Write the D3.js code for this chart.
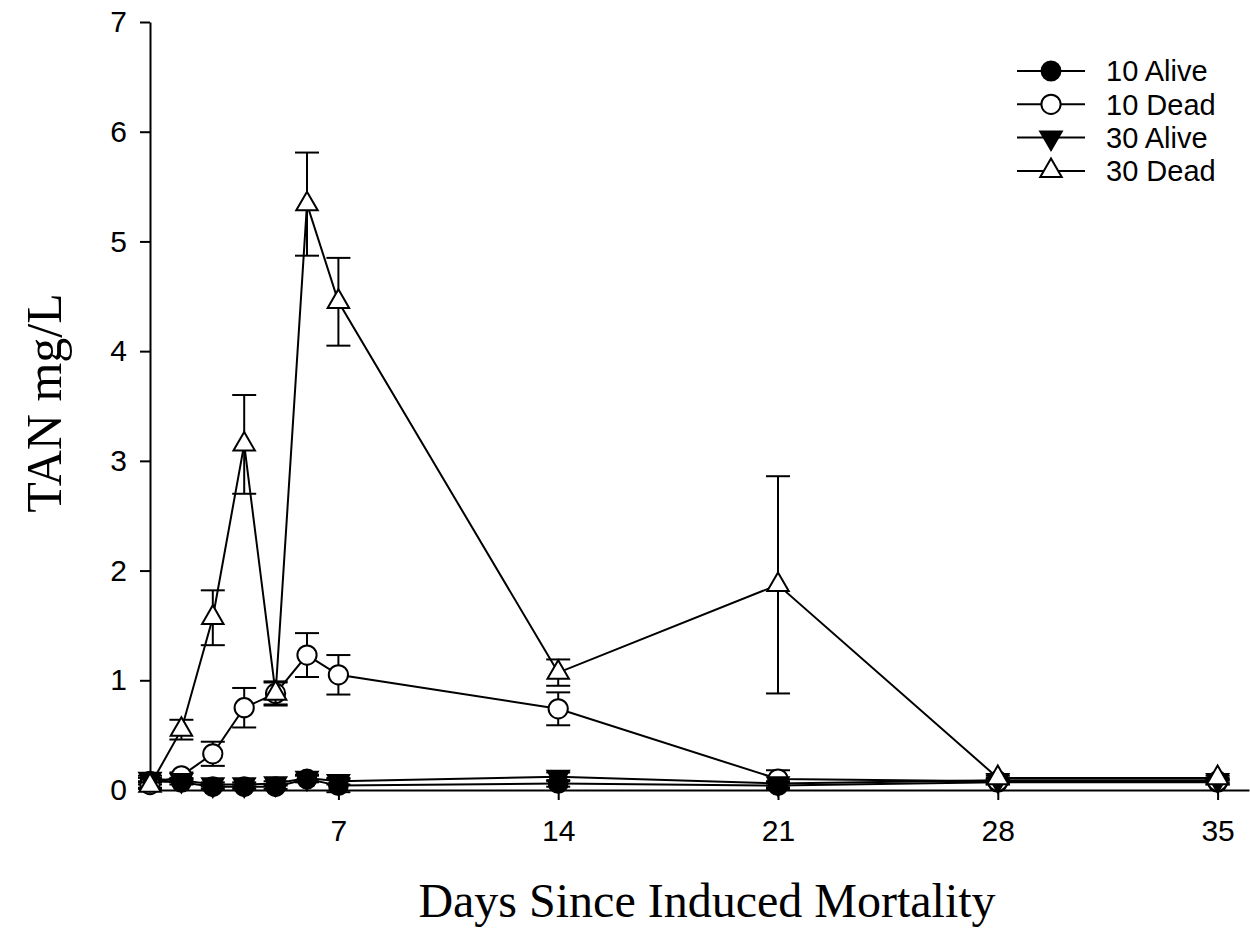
<!doctype html>
<html>
<head>
    <meta charset="UTF-8">
    <title>TAN mg/L</title>
    <script src="https://d3js.org/d3.v7.min.js"></script>
    <style>
        body { margin: 0; background: #fff; }
        text { fill: #000; }
    </style>
</head>
<body>
<svg width="1250" height="935" id="chart"></svg>
<script>
// days sampled
var days = [1, 2, 3, 4, 5, 6, 7, 14, 21, 28, 35];

// TAN mg/L means and error (SE)
var alive10 = [0.08, 0.07, 0.03, 0.03, 0.03, 0.10, 0.04, 0.06, 0.04, 0.07, 0.07];
var alive10Err = [0.03, 0.02, 0.02, 0.02, 0.02, 0.03, 0.06, 0.03, 0.03, 0.02, 0.02];
var dead10 = [0.05, 0.13, 0.33, 0.75, 0.88, 1.23, 1.05, 0.74, 0.10, 0.08, 0.08];
var dead10Err = [0.03, 0.03, 0.11, 0.18, 0.10, 0.20, 0.18, 0.15, 0.08, 0.02, 0.02];
var alive30 = [0.10, 0.09, 0.05, 0.05, 0.06, 0.11, 0.08, 0.12, 0.06, 0.09, 0.09];
var alive30Err = [0.03, 0.02, 0.02, 0.02, 0.02, 0.03, 0.03, 0.04, 0.02, 0.02, 0.02];
var dead30 = [0.04, 0.55, 1.57, 3.15, 0.88, 5.34, 4.45, 1.07, 1.87, 0.11, 0.11];
var dead30Err = [0.03, 0.09, 0.25, 0.45, 0.11, 0.47, 0.40, 0.12, 0.99, 0.02, 0.02];

var xTicks = [7, 14, 21, 28, 35];
var yTicks = [0, 1, 2, 3, 4, 5, 6, 7];

var seriesNames = ["10 Alive", "10 Dead", "30 Alive", "30 Dead"];

var series = [
    {name: seriesNames[0], vals: alive10, err: alive10Err, shape: d3.symbolCircle, size: 280, fill: "#000", rot: 0},
    {name: seriesNames[1], vals: dead10, err: dead10Err, shape: d3.symbolCircle, size: 290, fill: "#fff", rot: 0},
    {name: seriesNames[2], vals: alive30, err: alive30Err, shape: d3.symbolTriangle, size: 200, fill: "#000", rot: 180},
    {name: seriesNames[3], vals: dead30, err: dead30Err, shape: d3.symbolTriangle, size: 200, fill: "#fff", rot: 0}
];

var svg = d3.select("#chart");
var x = d3.scaleLinear().domain([1, 36]).range([150, 1249]);
var y = d3.scaleLinear().domain([0, 7]).range([790, 22]);
var tickFont = "Liberation Sans, Arial, sans-serif";

// axes
svg.append("g")
    .attr("transform", "translate(0,790)")
    .call(d3.axisBottom(x).tickValues(xTicks).tickFormat(d3.format("d")).tickSize(10).tickSizeOuter(0).tickPadding(20))
    .call(function(g){
        g.select(".domain").attr("stroke-width", 2);
        g.selectAll(".tick line").attr("stroke-width", 2);
        g.selectAll("text").attr("font-family", tickFont).attr("font-size", 30);
    });

svg.append("g")
    .attr("transform", "translate(150,0)")
    .call(d3.axisLeft(y).tickValues(yTicks).tickFormat(d3.format("d")).tickSize(10).tickSizeOuter(0).tickPadding(13))
    .call(function(g){
        g.select(".domain").attr("stroke-width", 2);
        g.selectAll(".tick line").attr("stroke-width", 2);
        g.selectAll("text").attr("font-family", tickFont).attr("font-size", 30);
    });

// axis titles
svg.append("text")
    .attr("x", 707).attr("y", 917)
    .attr("text-anchor", "middle")
    .attr("font-family", "Liberation Serif, Times New Roman, serif")
    .attr("font-size", 48)
    .text("Days Since Induced Mortality");

svg.append("text")
    .attr("transform", "translate(61,403) rotate(-90)")
    .attr("text-anchor", "middle")
    .attr("font-family", "Liberation Serif, Times New Roman, serif")
    .attr("font-size", 50)
    .text("TAN mg/L");

// lines, error bars and markers
var line = d3.line().x(function(d){ return x(d[0]); }).y(function(d){ return y(d[1]); });
var capW = 12;

series.forEach(function(s){
    var pts = days.map(function(d, i){ return [d, s.vals[i], s.err[i]]; });
    var g = svg.append("g");

    g.append("path")
        .attr("d", line(pts))
        .attr("fill", "none")
        .attr("stroke", "#000")
        .attr("stroke-width", 2);

    var eb = g.selectAll(".eb").data(pts).enter().append("g");
    eb.append("line")
        .attr("x1", function(d){ return x(d[0]); })
        .attr("x2", function(d){ return x(d[0]); })
        .attr("y1", function(d){ return y(d[1] + d[2]); })
        .attr("y2", function(d){ return y(d[1] - d[2]); })
        .attr("stroke", "#000").attr("stroke-width", 2);
    eb.append("line")
        .attr("x1", function(d){ return x(d[0]) - capW; })
        .attr("x2", function(d){ return x(d[0]) + capW; })
        .attr("y1", function(d){ return y(d[1] + d[2]); })
        .attr("y2", function(d){ return y(d[1] + d[2]); })
        .attr("stroke", "#000").attr("stroke-width", 2);
    eb.append("line")
        .attr("x1", function(d){ return x(d[0]) - capW; })
        .attr("x2", function(d){ return x(d[0]) + capW; })
        .attr("y1", function(d){ return y(d[1] - d[2]); })
        .attr("y2", function(d){ return y(d[1] - d[2]); })
        .attr("stroke", "#000").attr("stroke-width", 2);

    g.selectAll(".mk").data(pts).enter().append("path")
        .attr("d", d3.symbol().type(s.shape).size(s.size))
        .attr("transform", function(d){ return "translate(" + x(d[0]) + "," + y(d[1]) + ") rotate(" + s.rot + ")"; })
        .attr("fill", s.fill)
        .attr("stroke", "#000")
        .attr("stroke-width", 2);
});

// legend
var legend = svg.append("g");
series.forEach(function(s, i){
    var cy = 71 + i * 33.3;
    legend.append("line")
        .attr("x1", 1017).attr("x2", 1085)
        .attr("y1", cy).attr("y2", cy)
        .attr("stroke", "#000").attr("stroke-width", 2);
    legend.append("path")
        .attr("d", d3.symbol().type(s.shape).size(s.size))
        .attr("transform", "translate(1051," + cy + ") rotate(" + s.rot + ")")
        .attr("fill", s.fill)
        .attr("stroke", "#000")
        .attr("stroke-width", 2);
    legend.append("text")
        .attr("x", 1106).attr("y", cy)
        .attr("dy", "0.36em")
        .attr("font-family", tickFont)
        .attr("font-size", 29)
        .text(s.name);
});
</script>
</body>
</html>
